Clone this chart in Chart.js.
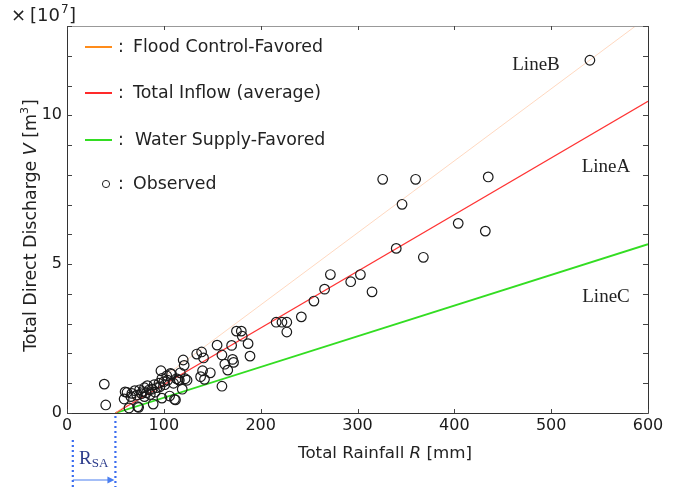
<!DOCTYPE html>
<html><head><meta charset="utf-8">
<script src="https://cdn.jsdelivr.net/npm/chart.js@4/dist/chart.umd.min.js"></script>
<style>html,body{margin:0;padding:0;background:#fff}#wrap{width:681px;height:487px;position:relative}</style>
</head><body><div id="wrap"><canvas id="c" width="681" height="487"></canvas></div>
<script>
// ---- data ----
const rainfall = [38.5,40,59,60,62,64,66,67,70,72,73,74,75,77,78,80,80,82,83,85,86,88,89,90,91,93,95,96,97,98,98,100,101,103,104,106,107,108,110,111,112,113,115,116,117,119,120,121,122,124,134,138,139,140,141,142,148,155,160,160,163,166,170,171,172,175,180,181,187,189,216,222,227,227,242,255,266,272,293,303,315,326,340,346,360,368,404,432,435,540];
const discharge = [0.97,0.27,0.47,0.71,0.69,0.17,0.55,0.66,0.75,0.60,0.21,0.19,0.78,0.65,0.72,0.85,0.55,0.68,0.92,0.78,0.62,0.80,0.30,0.95,0.70,0.85,1.00,0.88,1.42,1.16,0.50,1.05,0.95,1.25,1.10,0.57,1.33,1.30,1.00,0.46,0.44,1.15,1.12,1.10,1.35,0.80,1.78,1.60,1.15,1.10,1.98,1.22,2.05,1.42,1.85,1.13,1.35,2.28,0.90,1.95,1.64,1.44,2.27,1.80,1.70,2.75,2.75,2.58,2.33,1.91,3.05,3.05,3.05,2.72,3.23,3.76,4.16,4.65,4.41,4.65,4.07,7.85,5.53,7.01,7.85,5.23,6.37,6.11,7.93,11.85];
const lineNames = ['Flood Control-Favored','Total Inflow (average)','Water Supply-Favored'];
const lineTags = ['LineB','LineA','LineC'];
const rSA = 50;              // start rainfall of all lines
const lineEndR = 600;
const lineEndV = [13.31, 10.47, 5.67];
const xTicks = [0,100,200,300,400,500,600];
const yLabelTicks = [0,5,10];
const xMax = 600, yMax = 13;

const legendColors = ['#ff8c1a','#ff2a2a','#33dd22'];
const plotColors = ['rgba(255,190,150,0.6)','#ff3333','#33dd22'];
const plotWidths = [1,1.2,1.8];

const datasets = lineNames.map((n,i)=>({
  label:n, data:[{x:rSA,y:0},{x:lineEndR,y:lineEndV[i]}], showLine:true,
  borderColor:plotColors[i], borderWidth:plotWidths[i], pointRadius:0, fill:false, order:2
}));
datasets.push({
  label:'Observed', data: rainfall.map((r,i)=>({x:r,y:discharge[i]})),
  pointRadius:4.8, pointBorderWidth:1.2, pointBorderColor:'#1a1a1a', pointBackgroundColor:'rgba(0,0,0,0)',
  showLine:false, order:1
});

const SANS = '"DejaVu Sans", "Noto Sans", sans-serif';
const SERIF = '"Liberation Serif", "DejaVu Serif", serif';

function fitSize(ctx, text, target, style){
  ctx.font = (style||'') + ' 20px ' + SANS;
  return 20 * target / ctx.measureText(text).width;
}

const deco = {
  id:'deco',
  afterDraw(chart){
    const ctx = chart.ctx, a = chart.chartArea, xs = chart.scales.x, ys = chart.scales.y;
    ctx.save();
    // frame
    ctx.lineWidth = 1;
    ctx.strokeStyle = '#999';
    ctx.beginPath(); ctx.moveTo(a.left, a.top+0.5); ctx.lineTo(a.right, a.top+0.5); ctx.stroke();
    ctx.strokeStyle = '#333';
    ctx.beginPath();
    ctx.moveTo(a.left+0.5, a.top); ctx.lineTo(a.left+0.5, a.bottom+0.5);
    ctx.lineTo(a.right+0.5, a.bottom+0.5); ctx.lineTo(a.right+0.5, a.top);
    ctx.stroke();
    // inward ticks
    ctx.strokeStyle = '#444';
    xTicks.forEach(v=>{
      const px = Math.round(xs.getPixelForValue(v))+0.5;
      ctx.beginPath(); ctx.moveTo(px,a.bottom); ctx.lineTo(px,a.bottom-4); ctx.stroke();
      ctx.beginPath(); ctx.moveTo(px,a.top); ctx.lineTo(px,a.top+4); ctx.stroke();
    });
    for(let v=0; v<=yMax; v++){
      const py = Math.round(ys.getPixelForValue(v))+0.5;
      ctx.beginPath(); ctx.moveTo(a.left,py); ctx.lineTo(a.left+5,py); ctx.stroke();
      ctx.beginPath(); ctx.moveTo(a.right,py); ctx.lineTo(a.right-5,py); ctx.stroke();
    }
    // ×[10^7]
    ctx.fillStyle = '#222';
    ctx.textBaseline = 'middle'; ctx.textAlign = 'left';
    ctx.font = '18px '+SANS;
    ctx.fillText('×', 11, 16);
    ctx.fillText('[10', 30, 16);
    let w = ctx.measureText('[10').width;
    ctx.font = '12px '+SANS;
    ctx.fillText('7', 30+w+1, 10);
    ctx.font = '18px '+SANS;
    ctx.fillText(']', 30+w+9, 16);

    // x title
    const p1 = 'Total Rainfall ', p2 = 'R', p3 = ' [mm]';
    const fx = fitSize(ctx, p1+p2+p3, 174);
    ctx.font = fx+'px '+SANS; const w1 = ctx.measureText(p1).width, w3 = ctx.measureText(p3).width;
    ctx.font = 'italic '+fx+'px '+SANS; const w2 = ctx.measureText(p2).width;
    let x0 = 385 - (w1+w2+w3)/2;
    ctx.font = fx+'px '+SANS; ctx.fillText(p1, x0, 454);
    ctx.font = 'italic '+fx+'px '+SANS; ctx.fillText(p2, x0+w1, 454);
    ctx.font = fx+'px '+SANS; ctx.fillText(p3, x0+w1+w2, 454);

    // y title
    ctx.save();
    ctx.translate(31, 226); ctx.rotate(-Math.PI/2);
    const q1 = 'Total Direct Discharge ', q2='V', q3=' [m', q4='3', q5=']';
    const fy = fitSize(ctx, q1+q2+q3+q5, 245);
    ctx.font = fy+'px '+SANS; const v1=ctx.measureText(q1).width, v3=ctx.measureText(q3).width, v5=ctx.measureText(q5).width;
    ctx.font = 'italic '+fy+'px '+SANS; const v2=ctx.measureText(q2).width;
    ctx.font = '11px '+SANS; const v4=ctx.measureText(q4).width;
    let s = -(v1+v2+v3+v4+v5)/2;
    ctx.font = fy+'px '+SANS; ctx.fillText(q1, s, 0); s+=v1;
    ctx.font = 'italic '+fy+'px '+SANS; ctx.fillText(q2, s, 0); s+=v2;
    ctx.font = fy+'px '+SANS; ctx.fillText(q3, s, 0); s+=v3;
    ctx.font = '11px '+SANS; ctx.fillText(q4, s, -6); s+=v4+1;
    ctx.font = fy+'px '+SANS; ctx.fillText(q5, s, 0);
    ctx.restore();

    // legend
    const legY = [47, 93, 140, 184];
    const fl = fitSize(ctx, lineNames[0], 190);
    ctx.font = fl+'px '+SANS;
    lineNames.forEach((n,i)=>{
      ctx.strokeStyle = legendColors[i]; ctx.lineWidth = 2;
      ctx.beginPath(); ctx.moveTo(85, legY[i]); ctx.lineTo(112, legY[i]); ctx.stroke();
      ctx.fillStyle = '#222';
      ctx.fillText(':', 118, legY[i]);
      ctx.fillText(n, i===2?135:133, legY[i]);
    });
    ctx.strokeStyle = '#222'; ctx.lineWidth = 1;
    ctx.beginPath(); ctx.arc(106, legY[3], 3.6, 0, Math.PI*2); ctx.stroke();
    ctx.fillText(':', 118, legY[3]);
    ctx.fillText('Observed', 133, legY[3]);

    // line tags
    ctx.font = '19px '+SERIF; ctx.textAlign = 'center'; ctx.fillStyle = '#222';
    ctx.fillText(lineTags[0], 536, 65);
    ctx.fillText(lineTags[1], 606, 167);
    ctx.fillText(lineTags[2], 606, 297);

    // R_SA annotation
    const xr = xs.getPixelForValue(rSA), xl = xs.getPixelForValue(6);
    ctx.strokeStyle = '#3a6cf0'; ctx.lineWidth = 2.2; ctx.setLineDash([2,3]);
    ctx.beginPath(); ctx.moveTo(xl, 440); ctx.lineTo(xl, 487); ctx.stroke();
    ctx.beginPath(); ctx.moveTo(xr, 416); ctx.lineTo(xr, 487); ctx.stroke();
    ctx.setLineDash([]);
    ctx.lineWidth = 1.2; ctx.strokeStyle = '#4a7ef0'; ctx.fillStyle = '#4a7ef0';
    ctx.beginPath(); ctx.moveTo(xl, 480); ctx.lineTo(xr-6, 480); ctx.stroke();
    ctx.beginPath(); ctx.moveTo(xr-1, 480); ctx.lineTo(xr-8, 476.5); ctx.lineTo(xr-8, 483.5); ctx.closePath(); ctx.fill();
    ctx.fillStyle = '#2c3c8c'; ctx.textAlign = 'left';
    ctx.font = '19px '+SERIF; ctx.fillText('R', 79, 459);
    const rw = ctx.measureText('R').width;
    ctx.font = '13px '+SERIF; ctx.fillText('SA', 79+rw, 464);
    ctx.restore();
  }
};

new Chart(document.getElementById('c'), {
  type:'scatter',
  data:{datasets},
  options:{
    responsive:false, animation:false, devicePixelRatio:1,
    layout:{padding:{top:26, right:33, left:0, bottom:0}},
    plugins:{legend:{display:false}, tooltip:{enabled:false}},
    scales:{
      x:{type:'linear', min:0, max:xMax,
         afterBuildTicks(s){ s.ticks = xTicks.map(v=>({value:v})); },
         ticks:{font:{size:16, family:'"DejaVu Sans", sans-serif'}, color:'#1a1a1a', padding:3, maxRotation:0},
         grid:{display:false, drawTicks:false}, border:{display:false},
         afterFit(s){ s.height = 74; }},
      y:{type:'linear', min:0, max:yMax,
         afterBuildTicks(s){ s.ticks = yLabelTicks.map(v=>({value:v})); },
         ticks:{font:{size:16, family:'"DejaVu Sans", sans-serif'}, color:'#1a1a1a', padding:5},
         grid:{display:false, drawTicks:false}, border:{display:false},
         afterFit(s){ s.width = 67; }}
    }
  },
  plugins:[deco]
});
</script>
</body></html>
